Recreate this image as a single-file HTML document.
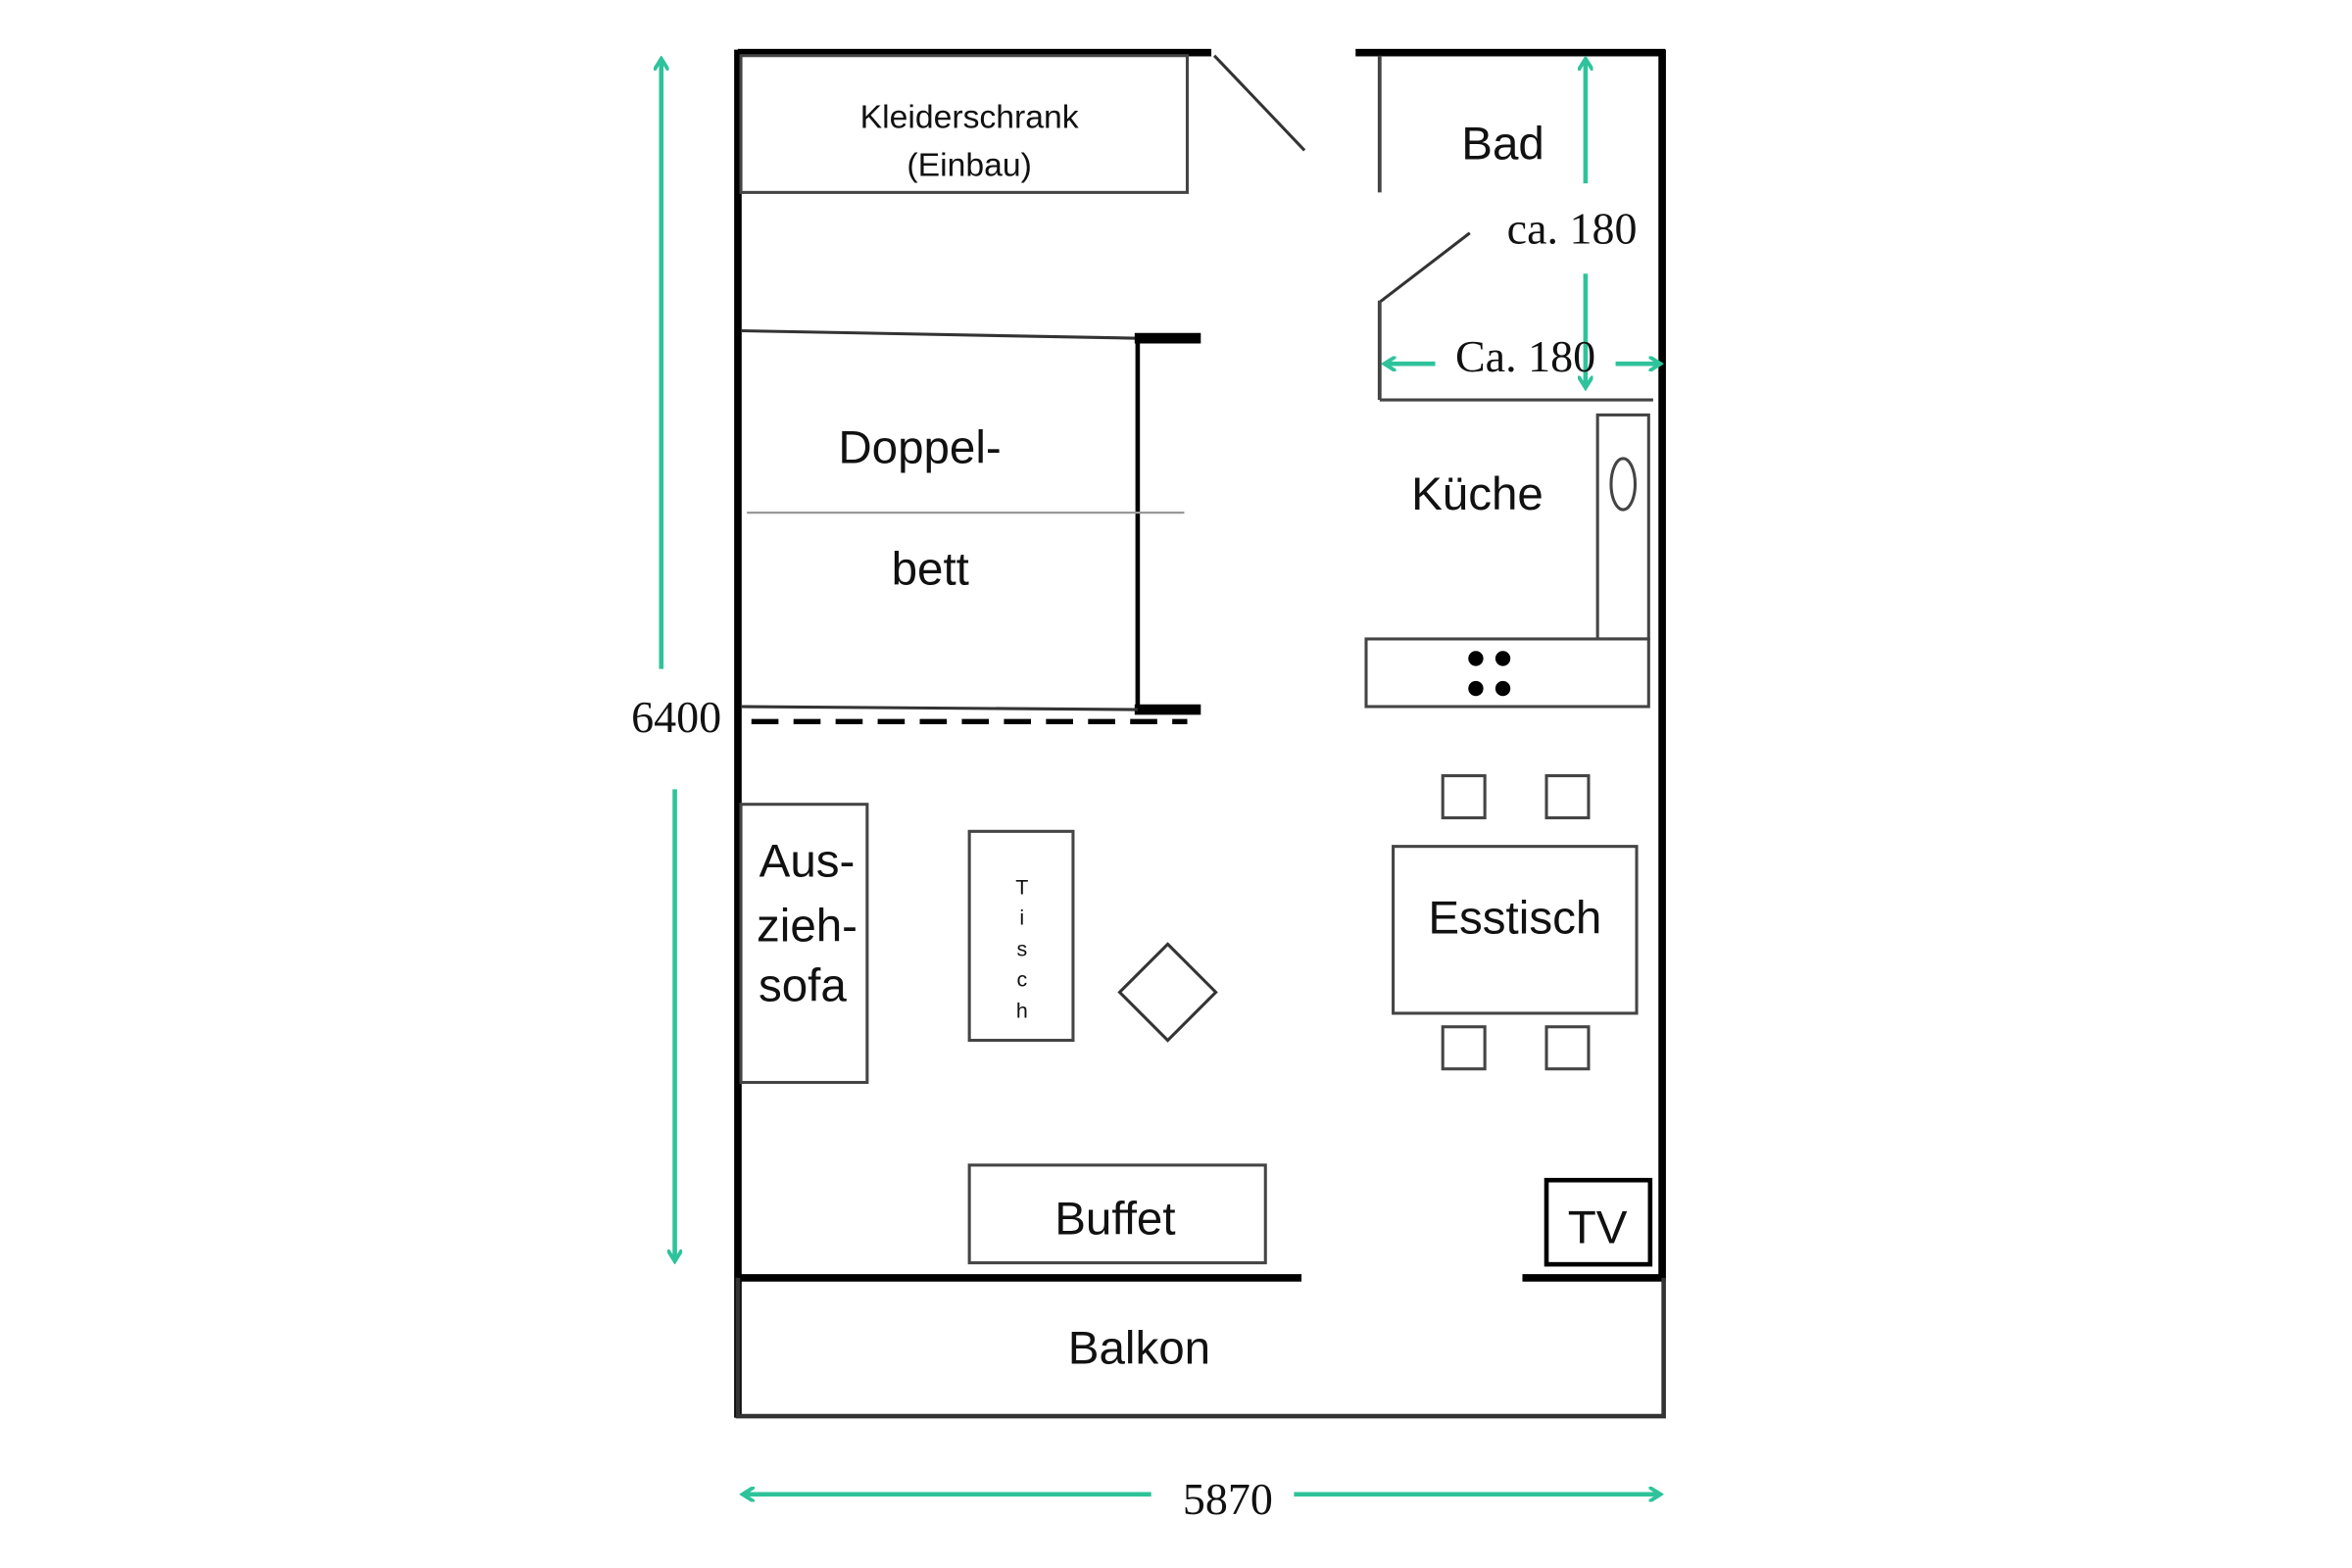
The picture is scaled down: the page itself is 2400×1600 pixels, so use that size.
<!DOCTYPE html>
<html><head><meta charset="utf-8"><style>html,body{margin:0;padding:0;background:#fff}svg{display:block}</style></head>
<body>
<svg width="2400" height="1600" viewBox="0 0 1565 1043" preserveAspectRatio="none" xmlns="http://www.w3.org/2000/svg">
<defs>
<marker id="ah" markerWidth="10" markerHeight="10" refX="7" refY="5" orient="auto" markerUnits="userSpaceOnUse"><path d="M0,0 L8,5 L0,10" fill="none" stroke="#2ec39b" stroke-width="2.5"/></marker>
</defs>
<rect width="1565" height="1043" fill="#fff"/>
<g stroke="#000" fill="none">
<line x1="491" y1="35" x2="806" y2="35" stroke-width="5"/>
<line x1="902" y1="35" x2="1108" y2="35" stroke-width="5"/>
<line x1="491" y1="33" x2="491" y2="943" stroke-width="5"/>
<line x1="1106" y1="33" x2="1106" y2="852" stroke-width="5"/>
<line x1="491" y1="850" x2="866" y2="850" stroke-width="5"/>
<line x1="1013" y1="850" x2="1108" y2="850" stroke-width="5"/>
<polyline points="491,850 491,942 1107,942 1107,850" stroke-width="3" stroke="#333"/>
<rect x="493" y="37" width="297" height="91" stroke-width="2" stroke="#444"/>
<line x1="808" y1="37" x2="868" y2="100" stroke-width="2" stroke="#333"/>
<line x1="918" y1="37" x2="918" y2="128" stroke-width="2.5" stroke="#444"/>
<line x1="918" y1="201" x2="978" y2="155" stroke-width="2" stroke="#333"/>
<line x1="918" y1="200" x2="918" y2="266" stroke-width="2.5" stroke="#444"/>
<line x1="918" y1="266" x2="1100" y2="266" stroke-width="2" stroke="#444"/>
<line x1="493" y1="220" x2="757" y2="225" stroke-width="2" stroke="#333"/>
<line x1="757" y1="225" x2="757" y2="472" stroke-width="3"/>
<line x1="755" y1="225" x2="799" y2="225" stroke-width="7"/>
<line x1="755" y1="472" x2="799" y2="472" stroke-width="7"/>
<line x1="497" y1="341" x2="788" y2="341" stroke-width="1.5" stroke="#999"/>
<line x1="493" y1="470" x2="757" y2="472" stroke-width="2" stroke="#333"/>
<line x1="500" y1="480" x2="790" y2="480" stroke-width="3.5" stroke-dasharray="18,10"/>
<rect x="1063" y="276" width="34" height="149" stroke-width="2" stroke="#444"/>
<ellipse cx="1080" cy="322" rx="8" ry="17" stroke-width="2" stroke="#444"/>
<rect x="909" y="425" width="188" height="45" stroke-width="2" stroke="#444"/>
<rect x="960" y="516" width="28" height="28" stroke-width="2" stroke="#444"/>
<rect x="1029" y="516" width="28" height="28" stroke-width="2" stroke="#444"/>
<rect x="960" y="683" width="28" height="28" stroke-width="2" stroke="#444"/>
<rect x="1029" y="683" width="28" height="28" stroke-width="2" stroke="#444"/>
<rect x="927" y="563" width="162" height="111" stroke-width="2" stroke="#444"/>
<rect x="493" y="535" width="84" height="185" stroke-width="2" stroke="#444"/>
<rect x="645" y="553" width="69" height="139" stroke-width="2" stroke="#444"/>
<polygon points="777,628 809,660 777,692 745,660" stroke-width="2" stroke="#333"/>
<rect x="645" y="775" width="197" height="65" stroke-width="2" stroke="#444"/>
<rect x="1029" y="785" width="69" height="56" stroke-width="3"/>
</g>
<g fill="#000">
<circle cx="982" cy="438" r="5"/><circle cx="1000" cy="438" r="5"/>
<circle cx="982" cy="458" r="5"/><circle cx="1000" cy="458" r="5"/>
</g>
<g stroke="#2ec39b" stroke-width="3" fill="none">
<line x1="440" y1="445" x2="440" y2="40" marker-end="url(#ah)"/>
<line x1="449" y1="525" x2="449" y2="838" marker-end="url(#ah)"/>
<line x1="766" y1="994" x2="495" y2="994" marker-end="url(#ah)"/>
<line x1="861" y1="994" x2="1104" y2="994" marker-end="url(#ah)"/>
<line x1="1055" y1="122" x2="1055" y2="40" marker-end="url(#ah)"/>
<line x1="1055" y1="182" x2="1055" y2="257" marker-end="url(#ah)"/>
<line x1="955" y1="242" x2="922" y2="242" marker-end="url(#ah)"/>
<line x1="1075" y1="242" x2="1104" y2="242" marker-end="url(#ah)"/>
</g>
<g font-family="Liberation Sans, sans-serif" fill="#111" text-anchor="middle">
<text x="645" y="85" font-size="22">Kleiderschrank</text>
<text x="645" y="117" font-size="22">(Einbau)</text>
<text x="1000" y="106" font-size="31">Bad</text>
<text x="612" y="308" font-size="31">Doppel-</text>
<text x="619" y="389" font-size="31">bett</text>
<text x="983" y="339" font-size="31">Küche</text>
<text x="1008" y="621" font-size="31">Esstisch</text>
<text x="537" y="583" font-size="31">Aus-</text>
<text x="537" y="626" font-size="31">zieh-</text>
<text x="534" y="666" font-size="31">sofa</text>
<text x="742" y="821" font-size="31">Buffet</text>
<text x="1063" y="827" font-size="31">TV</text>
<text x="758" y="907" font-size="31">Balkon</text>
<g font-size="14"><text x="680" y="595">T</text><text x="680" y="615">i</text><text x="680" y="636">s</text><text x="680" y="656">c</text><text x="680" y="677">h</text></g>
</g>
<g font-family="Liberation Serif, serif" fill="#111" text-anchor="middle" font-size="30">
<text x="1046" y="162">ca. 180</text>
<text x="1015" y="247">Ca. 180</text>
<text x="450" y="487">6400</text>
<text x="817" y="1007">5870</text>
</g>
</svg>
</body></html>
